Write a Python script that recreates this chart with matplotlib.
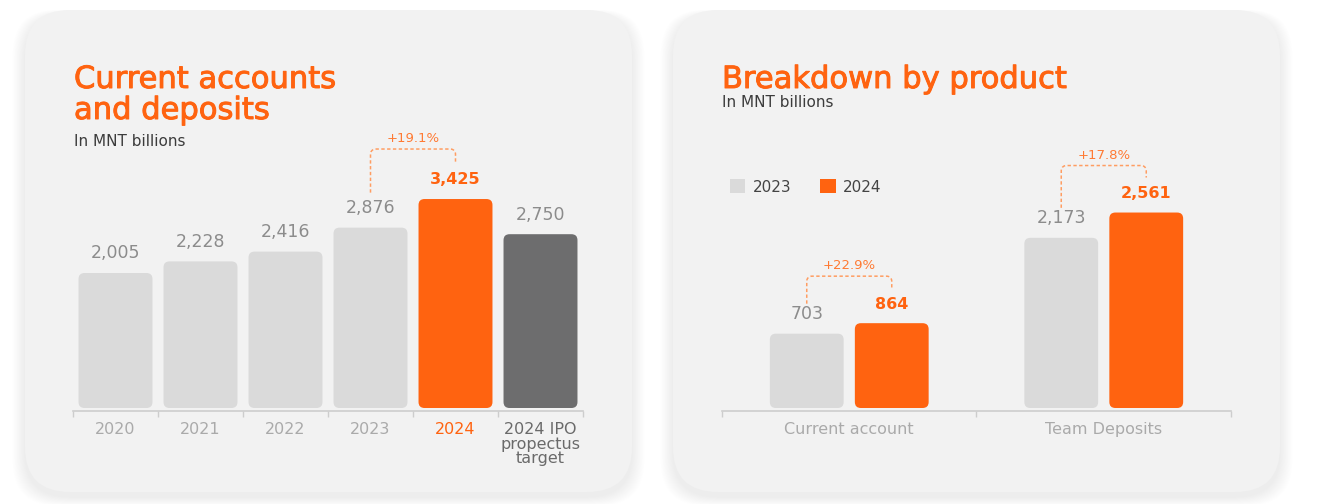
import numpy as np
import matplotlib
matplotlib.use("Agg")
import matplotlib.pyplot as plt
import matplotlib.patheffects as pe
from matplotlib.patches import FancyBboxPatch, Patch

plt.rcParams['font.family'] = ['DejaVu Sans']

# data
years = ["2020", "2021", "2022", "2023", "2024", "2024 IPO\npropectus\ntarget"]
deposits = [2005, 2228, 2416, 2876, 3425, 2750]
value_labels = ["2,005", "2,228", "2,416", "2,876", "3,425", "2,750"]
growth_total = "+19.1%"

products = ["Current account", "Team Deposits"]
y2023 = [703, 2173]
y2024 = [864, 2561]
labels2023 = ["703", "2,173"]
labels2024 = ["864", "2,561"]
growth_products = ["+22.9%", "+17.8%"]

ORANGE = "#ff6310"
LIGHT = "#dadada"
DARK = "#6d6d6e"
PANEL = "#f2f2f2"
GREY_TXT = "#8c8c8c"
DASH = "#ff9d62"

W, H = 1326, 504
fig = plt.figure(figsize=(W / 100, H / 100), dpi=100)
fig.patch.set_facecolor("white")

# background layer in pixel coords
bg = fig.add_axes([0, 0, 1, 1])
bg.set_xlim(0, W)
bg.set_ylim(H, 0)
bg.axis("off")
bg.set_zorder(-5)

for px0, px1 in [(25, 632), (673, 1280)]:
    # soft shadow, a bit stronger at the bottom
    for k in range(18):
        g = 18 - k
        bg.add_patch(FancyBboxPatch((px0 - g * 0.7, 10 - g * 0.3 + 5), px1 - px0 + g * 1.4, 482 + g * 0.8,
                                    boxstyle="round,pad=0,rounding_size=45",
                                    facecolor="black", edgecolor="none", alpha=0.005))
    bg.add_patch(FancyBboxPatch((px0, 10), px1 - px0, 482,
                                boxstyle="round,pad=0,rounding_size=45",
                                facecolor=PANEL, edgecolor="none"))

title_fx = [pe.withStroke(linewidth=0.7, foreground=ORANGE)]
bg.text(74, 88, "Current accounts", color=ORANGE, fontsize=22, va="baseline", path_effects=title_fx)
bg.text(74, 119, "and deposits", color=ORANGE, fontsize=22, va="baseline", path_effects=title_fx)
bg.text(74, 146, "In MNT billions", color="#3c3c3c", fontsize=11, va="baseline")
bg.text(722, 88, "Breakdown by product", color=ORANGE, fontsize=22, va="baseline", path_effects=title_fx)
bg.text(722, 107, "In MNT billions", color="#3c3c3c", fontsize=11, va="baseline")


def make_axes(x0, x1, ytop, ybot):
    return fig.add_axes([x0 / W, 1 - ybot / H, (x1 - x0) / W, (ybot - ytop) / H])


def style_axes(ax, boundaries):
    for s in ["top", "right", "left"]:
        ax.spines[s].set_visible(False)
    ax.spines["bottom"].set_color("#cdcdcd")
    ax.spines["bottom"].set_linewidth(1.2)
    ax.set_yticks([])
    ax.set_xticks(boundaries, minor=True)
    ax.tick_params(axis="x", which="minor", length=4.5, width=1, color="#cdcdcd")
    ax.tick_params(axis="x", which="major", length=0, pad=8, labelsize=11.5)
    ax.patch.set_alpha(0)


def rbar(ax, xc, width, base, top, color, upp):
    xupp, yupp = upp
    r = 6
    ax.add_patch(FancyBboxPatch((xc - width / 2, base), width, top - base,
                                boxstyle=f"round,pad=0,rounding_size={r * xupp}",
                                mutation_aspect=yupp / xupp,
                                facecolor=color, edgecolor="none"))


def bracket(ax, x1, top1, x2, top2, text, upp, l_off, h_off, r_off):
    xupp, yupp = upp
    r = 5
    hi = max(top1, top2)
    ya = top1 + l_off * yupp
    yh = hi + h_off * yupp
    yb = top2 + r_off * yupp
    t = np.linspace(0, np.pi / 2, 8)
    xs = [x1]
    ys = [ya]
    # left corner
    xs += list(x1 + r * xupp - r * xupp * np.cos(t))
    ys += list(yh - r * yupp + r * yupp * np.sin(t))
    # right corner
    xs += list(x2 - r * xupp + r * xupp * np.sin(t))
    ys += list(yh - r * yupp + r * yupp * np.cos(t))
    xs += [x2]
    ys += [yb]
    ax.plot(xs, ys, color=DASH, lw=1.1, linestyle=(0, (2.2, 1.6)), solid_capstyle="butt")
    ax.text((x1 + x2) / 2, yh + 7 * yupp, text, color="#ff7a33", fontsize=9.5,
            ha="center", va="baseline")


# ---- left chart ----
ax1 = make_axes(73, 583, 130, 411)
base1 = -586
yupp1 = 1 / 0.0521
xupp1 = 6 / 510
ax1.set_xlim(-0.5, 5.5)
ax1.set_ylim(base1 - 3 * yupp1, base1 - 3 * yupp1 + 281 * yupp1)
style_axes(ax1, np.arange(-0.5, 6, 1))
x = np.arange(len(years))
colors1 = [LIGHT, LIGHT, LIGHT, LIGHT, ORANGE, DARK]
for i, v in enumerate(deposits):
    rbar(ax1, x[i], 0.87, base1, v, colors1[i], (xupp1, yupp1))
    if i == 4:
        ax1.annotate(value_labels[i], (x[i], v), xytext=(0, 10.5), textcoords="offset points",
                     ha="center", va="baseline", color=ORANGE, fontsize=11.5, fontweight="bold")
    else:
        ax1.annotate(value_labels[i], (x[i], v), xytext=(0, 10.5), textcoords="offset points",
                     ha="center", va="baseline", color=GREY_TXT, fontsize=12.5)
ax1.set_xticks(x)
ax1.set_xticklabels(years)
tick_colors = ["#aaaaaa"] * 4 + [ORANGE, "#6a6a6a"]
for lab, c in zip(ax1.get_xticklabels(), tick_colors):
    lab.set_color(c)
    lab.set_linespacing(0.95)
bracket(ax1, x[3], deposits[3], x[4], deposits[4], growth_total, (xupp1, yupp1), 35, 50, 36)

# ---- right chart ----
ax2 = make_axes(722, 1231, 130, 411)
base2 = -437
yupp2 = 1 / 0.0652
xupp2 = 2 / 509
ax2.set_xlim(-0.5, 1.5)
ax2.set_ylim(base2 - 3 * yupp2, base2 - 3 * yupp2 + 281 * yupp2)
style_axes(ax2, [-0.5, 0.5, 1.5])
xp = np.arange(len(products))
off = 0.167
for i in range(len(products)):
    rbar(ax2, xp[i] - off, 0.29, base2, y2023[i], LIGHT, (xupp2, yupp2))
    rbar(ax2, xp[i] + off, 0.29, base2, y2024[i], ORANGE, (xupp2, yupp2))
    ax2.annotate(labels2023[i], (xp[i] - off, y2023[i]), xytext=(0, 10.5), textcoords="offset points",
                 ha="center", va="baseline", color=GREY_TXT, fontsize=12.5)
    ax2.annotate(labels2024[i], (xp[i] + off, y2024[i]), xytext=(0, 10.5), textcoords="offset points",
                 ha="center", va="baseline", color=ORANGE, fontsize=11.5, fontweight="bold")
    bracket(ax2, xp[i] - off, y2023[i], xp[i] + off, y2024[i], growth_products[i],
            (xupp2, yupp2), 30, 47, 35)
ax2.set_xticks(xp)
ax2.set_xticklabels(products)
for lab in ax2.get_xticklabels():
    lab.set_color("#aaaaaa")

leg = ax2.legend(handles=[Patch(facecolor=LIGHT, label="2023"), Patch(facecolor=ORANGE, label="2024")],
                 loc="center left", bbox_to_anchor=(716 / W, 1 - 187 / H), bbox_transform=fig.transFigure,
                 frameon=False, ncol=2, handlelength=1.0, handleheight=1.0, handletextpad=0.5,
                 columnspacing=1.9, fontsize=11)
for t in leg.get_texts():
    t.set_color("#444444")

fig.savefig("out.png", dpi=100, facecolor="white")
